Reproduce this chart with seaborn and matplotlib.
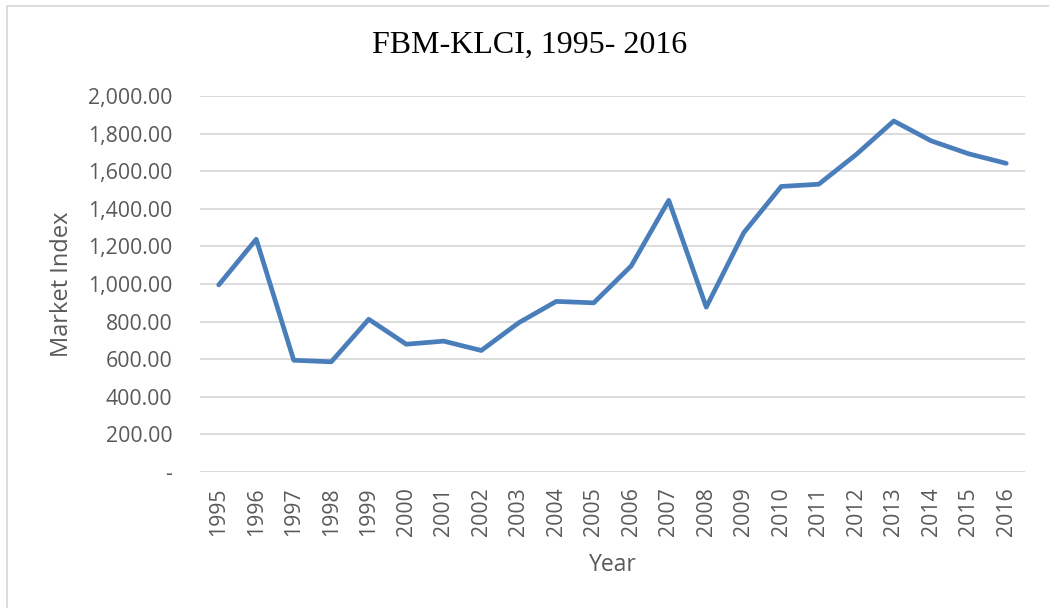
import matplotlib
matplotlib.use("Agg")
import matplotlib.pyplot as plt
from matplotlib.patches import Rectangle
from matplotlib.ticker import FuncFormatter
import pandas as pd
import seaborn as sns

years = list(range(1995, 2017))
klci = [995.17, 1237.96, 594.44, 586.13, 812.33, 679.64, 696.09, 646.32,
        793.94, 907.43, 899.79, 1096.24, 1445.03, 876.75, 1272.78, 1518.91,
        1530.73, 1688.95, 1866.96, 1761.25, 1692.51, 1641.73]
y_ticks = [0, 200, 400, 600, 800, 1000, 1200, 1400, 1600, 1800, 2000]

df = pd.DataFrame({"Year": years, "Market Index": klci})

sns.set_theme(style="white")
plt.rcParams["font.family"] = ["Open Sans", "DejaVu Sans"]

fig = plt.figure(figsize=(10.49, 6.08), dpi=100)
ax = fig.add_axes([200 / 1049, 1 - 472 / 608, 825 / 1049, 376 / 608])

sns.lineplot(data=df, x="Year", y="Market Index", ax=ax, color="#4a7ebb",
             linewidth=3.4, solid_joinstyle="round", solid_capstyle="round")

ax.set_xlim(years[0] - 0.5, years[-1] + 0.5)
ax.set_ylim(0, 2000)
ax.set_xticks(years)
ax.set_xticklabels([str(y) for y in years], rotation=90)
ax.set_yticks(y_ticks)


def fmt(v, pos):
    return "-" if v == 0 else f"{v:,.2f}"


ax.yaxis.set_major_formatter(FuncFormatter(fmt))
ax.grid(axis="y", color="#d9d9d9", linewidth=1.3)
ax.set_axisbelow(True)
for s in ax.spines.values():
    s.set_visible(False)
ax.tick_params(axis="both", length=0, labelsize=15.3, colors="#595959")
ax.tick_params(axis="y", pad=20)
ax.tick_params(axis="x", pad=11)

ax.set_xlabel("Year", fontsize=16.5, color="#595959", labelpad=12)
ax.set_ylabel("Market Index", fontsize=17, color="#595959", labelpad=10)

fig.text(0.505, 1 - 45 / 608, "FBM-KLCI, 1995- 2016", ha="center", va="center",
         fontsize=23, family="Liberation Serif", color="black")

fig.patches.append(Rectangle((7 / 1049, -1), 2, 1 + (1 - 6 / 608), transform=fig.transFigure,
                             fill=False, edgecolor="#d9d9d9", linewidth=1.3))

fig.savefig("out.png", dpi=100)
